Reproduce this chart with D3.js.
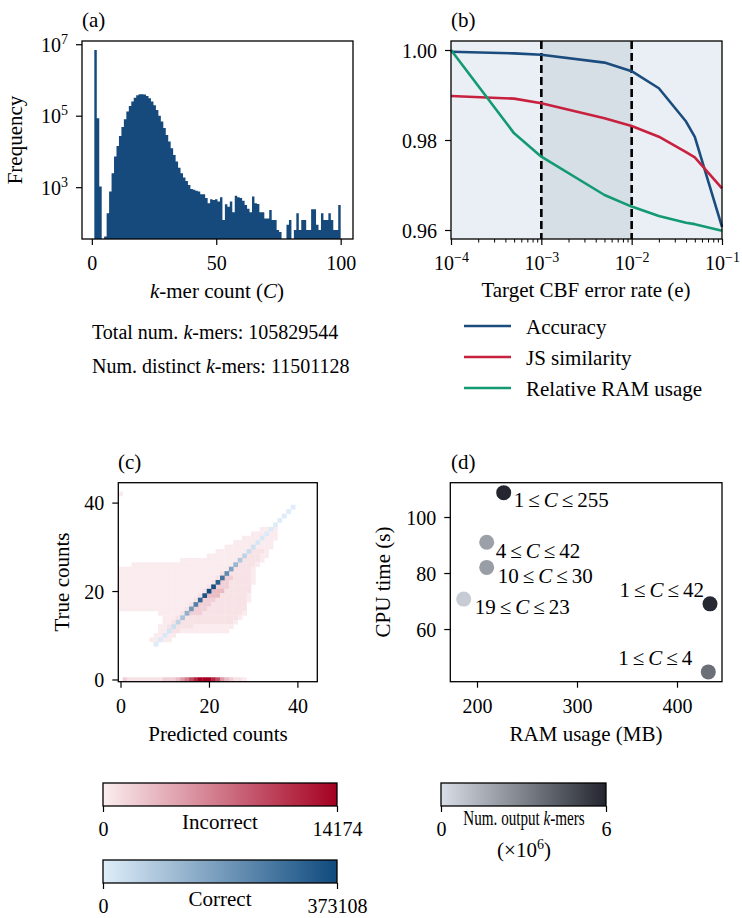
<!DOCTYPE html>
<html>
<head>
<meta charset="utf-8">
<script src="https://cdn.jsdelivr.net/npm/d3@7"></script>
<style>
body { margin: 0; background: #fff; }
svg text { font-family: "Liberation Serif", "DejaVu Serif", serif; font-size: 21px; fill: #000; }
svg .tick text { font-size: 20px; }
</style>
</head>
<body>
<script>
// ---- (a) k-mer count histogram: frequency for count 1..100 ----
const kmerCounts = d3.range(1, 101)
const kmerFreq = [
  6900000, 85000, 1050, 0, 42, 186, 760, 2450, 7200, 14100,
  27000, 48000, 79000, 132000, 186000, 251000, 316000, 372000, 395000, 395000,
  389000, 355000, 309000, 251000, 195000, 145000, 100000, 69000, 45000, 29000,
  19000, 12300, 7900, 5200, 3500, 2450, 1860, 1500, 1150, 890,
  850, 790, 760, 630, 630, 500, 355, 457, 437, 457,
  398, 525, 120, 331, 282, 398, 200, 575, 525, 500,
  417, 316, 251, 200, 550, 355, 339, 200, 200, 132,
  132, 229, 120, 120, 63, 56, 0, 0, 89, 120,
  0, 63, 186, 63, 120, 120, 63, 63, 240, 240,
  89, 63, 186, 120, 120, 186, 120, 63, 63, 316
]
const binWidth = 0.99 // 100 bins spanning 1..100
const totalKmers = 105829544
const distinctKmers = 11501128

// ---- (b) CBF error rate sweep ----
const errRates = [1e-4, 5e-4, 1e-3, 5e-3, 1e-2, 2e-2, 4e-2, 5e-2, 1e-1]
const accuracy = [0.9996, 0.99926, 0.99896, 0.9972, 0.9953, 0.9915, 0.9841, 0.9807, 0.9607]
const jsSimilarity = [0.98978, 0.98919, 0.98815, 0.98481, 0.98311, 0.98074, 0.9773, 0.97615, 0.96926]
const relRam = [1.0, 0.98148, 0.9763, 0.96778, 0.9652, 0.96311, 0.96163, 0.9613, 0.95985]
const seriesNames = ['Accuracy', 'JS similarity', 'Relative RAM usage']
const seriesColors = ['#1b4c7e', '#c8203f', '#139a72']
const bandRates = [1e-3, 1e-2]

// ---- (c) predicted vs true counts ----
const incorrectMax = 14174
const correctMax = 373108
// level code -> count of incorrect k-mers
const incorrectLevels = { 1: 150, 2: 700, 3: 1800, 4: 3000, 5: 5000, 6: 7000, 7: 9500, 8: 12000, 9: 14174 }
// [true count, first predicted count, level per predicted count ('.' = none)]
const incorrectRuns = [
  [42, 0, '1'],
  [34, 32, '11.1'],
  [33, 30, '111.11'],
  [32, 28, '1111.111'],
  [31, 26, '11111.111'],
  [30, 24, '111111.1111'],
  [29, 22, '1111111.2221'],
  [28, 20, '11111111.22211'],
  [27, 14, '1111111111111.22221'],
  [26, 3, '11111111111111111111111.22221'],
  [25, 0, '1111111111111111111111111.22221'],
  [24, 0, '111111111111111111111112.222221'],
  [23, 0, '11111111111111111111112.3322221'],
  [22, 0, '1111111111111111111112.33222221'],
  [21, 0, '111111111111111111112.33322222'],
  [20, 0, '11111111111111111112.444222222'],
  [19, 0, '1111111111111111112.4442222221'],
  [18, 0, '111111111111111112.33322222221'],
  [17, 0, '11111111111111112.33322222222'],
  [16, 0, '1111111111111112.333222222222'],
  [15, 9, '111112.3332222222221'],
  [14, 10, '1112.2222222222221'],
  [13, 10, '112.2222222222221'],
  [12, 9, '112.2222111111111'],
  [11, 9, '11.2211111111111'],
  [10, 8, '11.11'],
  [9, 7, '11.11'],
  [0, 1, '3222222223334567899987543221']
]
const correctCounts = d3.range(8, 40)
const correctValues = [
  3000, 6000, 11000, 20000, 35000, 58000, 95000, 140000, 195000, 250000,
  305000, 350000, 373108, 360000, 325000, 280000, 225000, 170000, 125000, 85000,
  58000, 38000, 25000, 16000, 10000, 6500, 4300, 2900, 2000, 1500,
  1100, 900
]

// ---- (d) runtime vs memory for count ranges ----
const rangeLo = [1, 4, 10, 19, 1, 1]
const rangeHi = [255, 42, 30, 23, 42, 4]
const ramMB = [226.7, 209.7, 209.7, 186.7, 433, 431.3]
const cpuSec = [108.7, 91.0, 82.0, 70.7, 69.0, 44.7]
const outputKmers = [6.0, 2.0, 2.1, 0.6, 5.9, 3.6] // x10^6
const outputMax = 6

// label placement for (d) (layout, not data)
const labelDx = [10, 9, 11, 11, -6, -16]
const labelDy = [7.5, 8, 8, 8, -14.5, -14.5]
const labelAnchor = ['start', 'start', 'start', 'start', 'end', 'end']

// ---------------------------------------------------------------
const W = 742, H = 918
const svg = d3.select('body').append('svg').attr('width', W).attr('height', H)
const defs = svg.append('defs')

const A = { x0: 82, x1: 353, y0: 41, y1: 239 }
const B = { x0: 451, x1: 722, y0: 41, y1: 239 }
const C = { x0: 118.3, x1: 317.3, y0: 482.7, y1: 681.7 }
const D = { x0: 450.3, x1: 722, y0: 482.7, y1: 681.7 }

function frame(box) {
  svg.append('rect')
    .attr('x', box.x0).attr('y', box.y0)
    .attr('width', box.x1 - box.x0).attr('height', box.y1 - box.y0)
    .attr('fill', 'none').attr('stroke', '#000').attr('stroke-width', 1.3)
}

function bottomAxis(box, scale, ticks, fmt) {
  let g = svg.append('g').attr('transform', `translate(0,${box.y1})`)
    .call(d3.axisBottom(scale).tickValues(ticks).tickFormat(fmt).tickSize(6))
  g.select('.domain').remove()
  g.selectAll('.tick line').attr('stroke', '#000').attr('stroke-width', 1.2)
  g.selectAll('.tick text').attr('y', 24).attr('dy', '0.35em')
  return g
}

function leftAxis(box, scale, ticks, fmt) {
  let g = svg.append('g').attr('transform', `translate(${box.x0},0)`)
    .call(d3.axisLeft(scale).tickValues(ticks).tickFormat(fmt).tickSize(6))
  g.select('.domain').remove()
  g.selectAll('.tick line').attr('stroke', '#000').attr('stroke-width', 1.2)
  g.selectAll('.tick text').attr('x', -14).attr('dy', '0.35em')
  return g
}

function powLabels(g) {
  g.selectAll('.tick text').each(function (d) {
    let t = d3.select(this).text(null)
    t.append('tspan').text('10')
    t.append('tspan').attr('dy', '-8').style('font-size', '14px')
      .text(String(Math.round(Math.log10(d))).replace('-', '\u2212'))
  })
}

function label(x, y, parts, opts = {}) {
  let t = svg.append('text').attr('x', x).attr('y', y)
    .attr('text-anchor', opts.anchor || 'middle')
  if (opts.size) t.style('font-size', opts.size + 'px')
  if (opts.rotate) t.attr('transform', `rotate(-90,${x},${y})`)
  parts.forEach(p => {
    let s = t.append('tspan').text(p[0])
    if (p[1]) s.style('font-style', 'italic')
  })
  return t
}

// ===== (a) =====
const xA = d3.scaleLinear().domain([-3.95, 104.95]).range([A.x0, A.x1])
const yA = d3.scaleLog().domain([10 ** 1.55, 10 ** 7.09]).range([A.y1, A.y0])

// step outline of the histogram, one point per bin edge
let stepPts = kmerCounts.map((c, i) => [1 + binWidth * (c - 1), kmerFreq[i]])
stepPts.push([1 + binWidth * kmerCounts.length, kmerFreq[kmerFreq.length - 1]])
const histArea = d3.area()
  .curve(d3.curveStepAfter)
  .x(d => xA(d[0]))
  .y0(A.y1)
  .y1(d => d[1] > 0 ? Math.max(A.y0, yA(d[1])) : A.y1)
svg.append('path').datum(stepPts).attr('d', histArea).attr('fill', '#164a7c')

frame(A)
bottomAxis(A, xA, [0, 50, 100], d3.format('d'))
powLabels(leftAxis(A, yA, [1e3, 1e5, 1e7], d => d))
label(82, 27, [['(a)']], { anchor: 'start' })
label(217, 298, [['k', true], ['-mer count ('], ['C', true], [')']])
label(22, 140, [['Frequency']], { rotate: true })
label(92, 339, [['Total num. '], ['k', true], ['-mers: ' + totalKmers]], { anchor: 'start', size: 20 })
label(92, 373, [['Num. distinct '], ['k', true], ['-mers: ' + distinctKmers]], { anchor: 'start', size: 20 })

// ===== (b) =====
const xB = d3.scaleLog().domain([1e-4, 1e-1]).range([B.x0, B.x1])
const yB = d3.scaleLinear().domain([0.958, 1.002]).range([B.y1, B.y0])

svg.append('rect').attr('x', B.x0).attr('y', B.y0)
  .attr('width', B.x1 - B.x0).attr('height', B.y1 - B.y0).attr('fill', '#e9eff4')
svg.append('rect').attr('x', xB(bandRates[0])).attr('y', B.y0)
  .attr('width', xB(bandRates[1]) - xB(bandRates[0])).attr('height', B.y1 - B.y0).attr('fill', '#d6dfe5')
svg.selectAll('line.band').data(bandRates).enter().append('line')
  .attr('x1', d => xB(d)).attr('x2', d => xB(d)).attr('y1', B.y0).attr('y2', B.y1)
  .attr('stroke', '#000').attr('stroke-width', 2.6).attr('stroke-dasharray', '8,4')

const seriesB = [accuracy, jsSimilarity, relRam]
const lineB = d3.line().x((d, i) => xB(errRates[i])).y(d => yB(d))
svg.selectAll('path.series').data(seriesB).enter().append('path')
  .attr('d', lineB).attr('fill', 'none')
  .attr('stroke', (d, i) => seriesColors[i]).attr('stroke-width', 2.6)
  .attr('stroke-linejoin', 'round')

frame(B)
let minorB = []
;[1e-4, 1e-3, 1e-2].forEach(dec => d3.range(2, 10).forEach(m => minorB.push(dec * m)))
let gMinor = svg.append('g').attr('transform', `translate(0,${B.y1})`)
  .call(d3.axisBottom(xB).tickValues(minorB).tickFormat('').tickSize(3.5))
gMinor.select('.domain').remove()
gMinor.selectAll('.tick line').attr('stroke', '#000').attr('stroke-width', 1)
powLabels(bottomAxis(B, xB, [1e-4, 1e-3, 1e-2, 1e-1], d => d))
leftAxis(B, yB, [0.96, 0.98, 1.0], d3.format('.2f'))
label(451, 27, [['(b)']], { anchor: 'start' })
label(586, 297, [['Target CBF error rate (e)']])

// legend
const legY = [326, 357, 388]
seriesNames.forEach((name, i) => {
  svg.append('line').attr('x1', 464).attr('x2', 511).attr('y1', legY[i]).attr('y2', legY[i])
    .attr('stroke', seriesColors[i]).attr('stroke-width', 2.6)
  label(526, legY[i] + 7.5, [[name]], { anchor: 'start' })
})

// ===== (c) =====
const xC = d3.scaleLinear().domain([-0.5, 44.5]).range([C.x0, C.x1])
const yC = d3.scaleLinear().domain([-0.5, 44.5]).range([C.y1, C.y0])
const redScale = d3.scaleLinear().domain([0, incorrectMax]).range(['#fbeef0', '#a50021'])
const blueScale = d3.scaleLinear().domain([0, correctMax]).range(['#deedf9', '#0f4a7e'])

let incorrectCells = []
incorrectRuns.forEach(([t, p0, s]) => {
  s.split('').forEach((ch, k) => {
    if (ch !== '.') incorrectCells.push({ t: t, p: p0 + k, v: incorrectLevels[ch] })
  })
})

svg.append('g').selectAll('rect').data(incorrectCells).enter().append('rect')
  .attr('x', d => xC(d.p - 0.5)).attr('y', d => yC(d.t + 0.5))
  .attr('width', xC(1) - xC(0) + 0.3).attr('height', yC(0) - yC(1) + 0.3)
  .attr('fill', d => redScale(d.v))

svg.append('g').selectAll('rect').data(correctCounts).enter().append('rect')
  .attr('x', c => xC(c - 0.5)).attr('y', c => yC(c + 0.5))
  .attr('width', xC(1) - xC(0) + 0.3).attr('height', yC(0) - yC(1) + 0.3)
  .attr('fill', (c, i) => blueScale(correctValues[i]))

frame(C)
bottomAxis(C, xC, [0, 20, 40], d3.format('d'))
leftAxis(C, yC, [0, 20, 40], d3.format('d'))
label(118, 469, [['(c)']], { anchor: 'start' })
label(218, 741, [['Predicted counts']])
label(69, 582, [['True counts']], { rotate: true })

// ===== (d) =====
const xD = d3.scaleLinear().domain([173.3, 445]).range([D.x0, D.x1])
const yD = d3.scaleLinear().domain([41.2, 112.25]).range([D.y1, D.y0])
const grayScale = d3.scaleLinear().domain([0, outputMax]).range(['#d8dde6', '#23262e'])

svg.append('g').selectAll('circle').data(ramMB).enter().append('circle')
  .attr('cx', d => xD(d)).attr('cy', (d, i) => yD(cpuSec[i]))
  .attr('r', 7.5).attr('fill', (d, i) => grayScale(outputKmers[i]))

rangeLo.forEach((lo, i) => {
  let t = svg.append('text')
    .attr('x', xD(ramMB[i]) + labelDx[i]).attr('y', yD(cpuSec[i]) + labelDy[i])
    .attr('dy', '0.35em').attr('text-anchor', labelAnchor[i])
  t.append('tspan').text(lo)
  t.append('tspan').attr('dx', 4).text('\u2264')
  t.append('tspan').attr('dx', 4).style('font-style', 'italic').text('C')
  t.append('tspan').attr('dx', 4).text('\u2264')
  t.append('tspan').attr('dx', 4).text(rangeHi[i])
})

frame(D)
bottomAxis(D, xD, [200, 300, 400], d3.format('d'))
leftAxis(D, yD, [60, 80, 100], d3.format('d'))
label(451, 469, [['(d)']], { anchor: 'start' })
label(586, 741, [['RAM usage (MB)']])
label(390, 582, [['CPU time (s)']], { rotate: true })

// ===== colorbars =====
function colorbar(id, x0, x1, y0, y1, scale, maxVal, maxText) {
  let grad = defs.append('linearGradient').attr('id', id)
  d3.range(0, 1.001, 0.1).forEach(f => {
    grad.append('stop').attr('offset', f).attr('stop-color', scale(f * maxVal))
  })
  svg.append('rect').attr('x', x0).attr('y', y0).attr('width', x1 - x0).attr('height', y1 - y0)
    .attr('fill', `url(#${id})`).attr('stroke', '#000').attr('stroke-width', 1.3)
  let cbScale = d3.scaleLinear().domain([0, maxVal]).range([x0, x1])
  let g = svg.append('g').attr('transform', `translate(0,${y1})`)
    .call(d3.axisBottom(cbScale).tickValues([0, maxVal]).tickFormat((d, i) => i ? maxText : '0').tickSize(6))
  g.select('.domain').remove()
  g.selectAll('.tick line').attr('stroke', '#000').attr('stroke-width', 1.2)
  g.selectAll('.tick text').attr('y', 23).attr('dy', '0.35em')
}

colorbar('cbRed', 103, 337, 783, 806, redScale, incorrectMax, String(incorrectMax))
label(220, 829, [['Incorrect']])
colorbar('cbBlue', 103, 337, 860, 883, blueScale, correctMax, String(correctMax))
label(220, 906, [['Correct']])
colorbar('cbGray', 441, 606, 783, 806, grayScale, outputMax, String(outputMax))

// the reference squeezes this label horizontally to fit between the tick labels
let cbTitle = svg.append('g').attr('transform', 'translate(524,825) scale(0.72,1)')
  .append('text').attr('text-anchor', 'middle')
cbTitle.append('tspan').text('Num. output ')
cbTitle.append('tspan').style('font-style', 'italic').text('k')
cbTitle.append('tspan').text('-mers')
let ex = label(524, 857, [['(\u00d710']])
ex.append('tspan').attr('dy', -8).style('font-size', '14px').text('6')
ex.append('tspan').attr('dy', 8).text(')')
</script>
</body>
</html>
